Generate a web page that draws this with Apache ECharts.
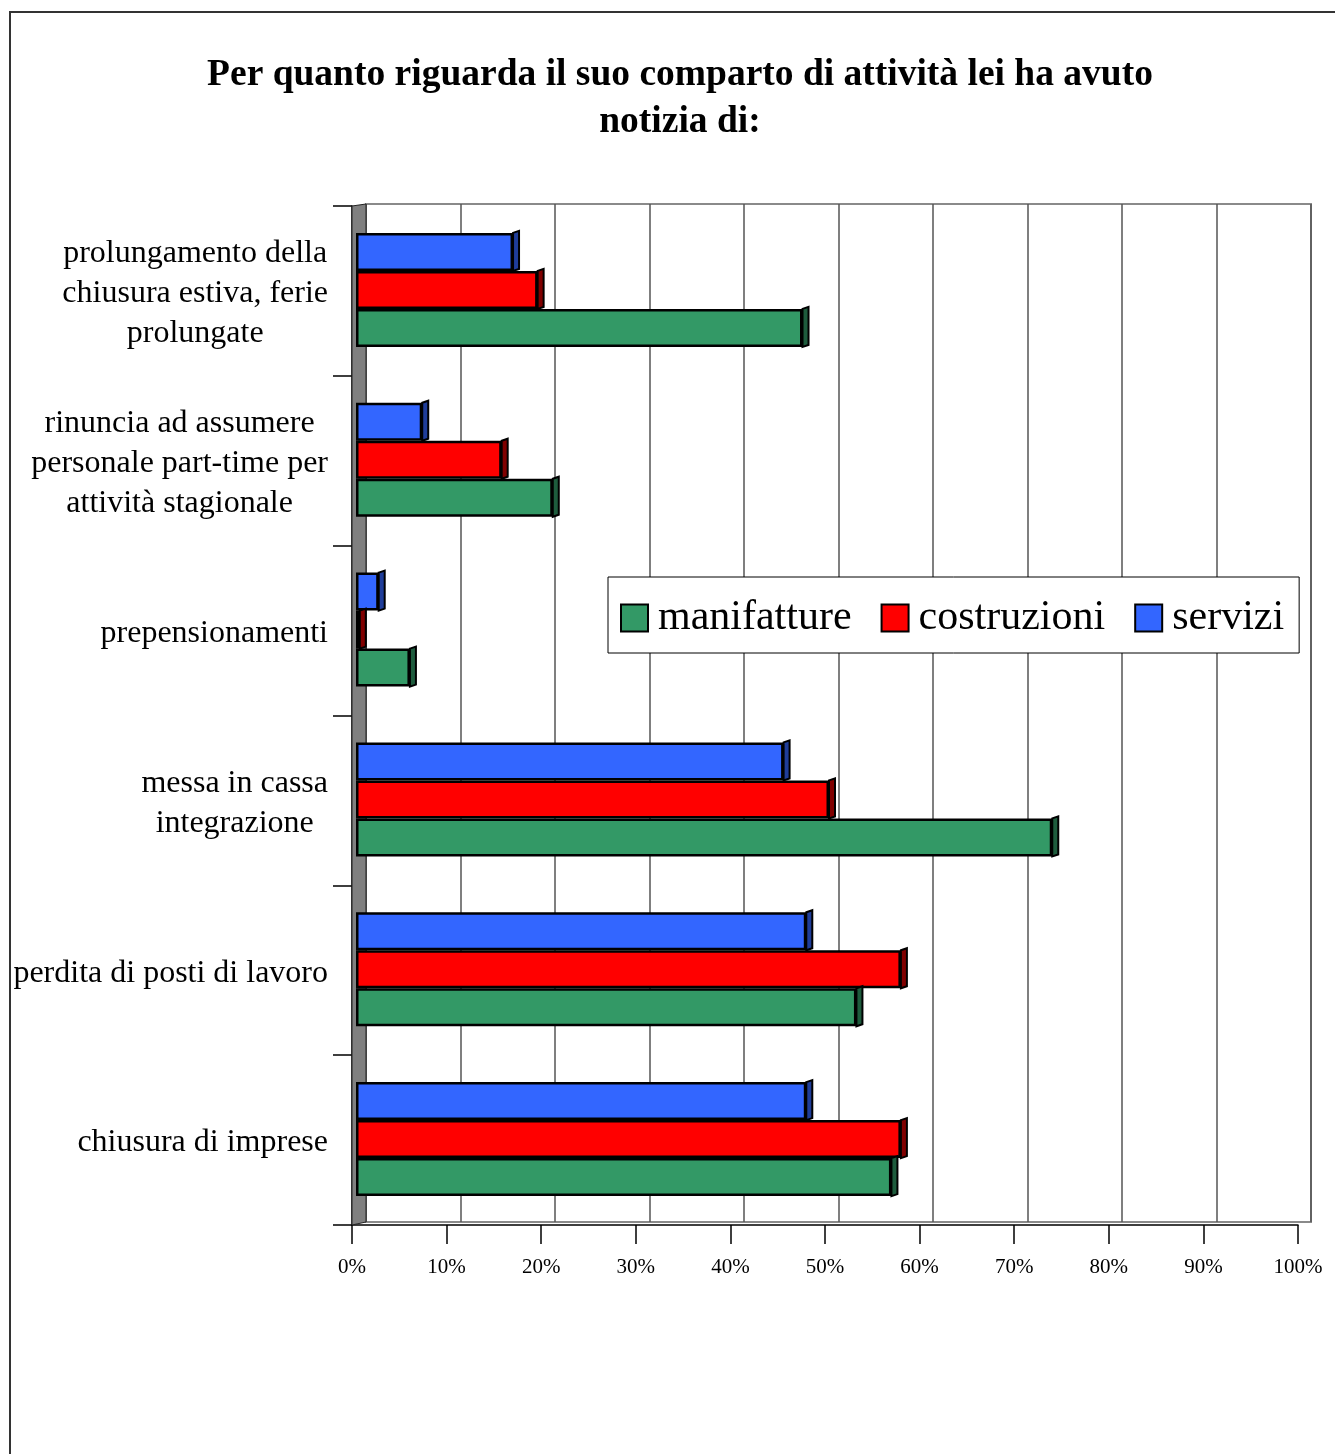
<!DOCTYPE html>
<html>
<head>
<meta charset="utf-8">
<script src="https://cdn.jsdelivr.net/npm/echarts@6/dist/echarts.min.js"></script>
<style>
  html, body { margin: 0; padding: 0; background: #fff; }
  #chart { width: 1335px; height: 1454px; }
</style>
</head>
<body>
<div id="chart"></div>
<script>
// Categories, top to bottom
const categories = [
  'prolungamento della\nchiusura estiva, ferie\nprolungate',
  'rinuncia ad assumere\npersonale part-time per\nattività stagionale',
  'prepensionamenti',
  'messa in cassa\nintegrazione',
  'perdita di posti di lavoro',
  'chiusura di imprese'
];

// Percentages per sector
const manifatture = [47.2, 20.8, 5.7, 73.6, 52.9, 56.6];
const costruzioni = [19.2, 15.4, 0.4, 50.0, 57.6, 57.6];
const servizi     = [16.6, 7.0, 2.4, 45.2, 47.6, 47.6];

const seriesNames = ['manifatture', 'costruzioni', 'servizi'];

// Styling
const FONT = 'Liberation Serif';
const faceColors = { manifatture: '#339966', costruzioni: '#FF0000', servizi: '#3366FF' };
const sideColors = { manifatture: '#1e5c3d', costruzioni: '#800000', servizi: '#1f3d99' };
const BAR_W = 38;
const DEPTH_X = 6, DEPTH_Y = -2;

// Bars listed top to bottom inside each group
const barOrder = [
  { name: 'servizi', data: servizi },
  { name: 'costruzioni', data: costruzioni },
  { name: 'manifatture', data: manifatture }
];

const W = 1335, H = 1454;
// front plane (axes), back wall (grid lines), bar plane
const front = { left: 352, right: W - 1298, top: 206, bottom: H - 1225 };
const back  = { left: 366, right: W - 1311, top: 204, bottom: H - 1222 };
const bars  = { left: 356, right: W - 1302, top: 205, bottom: H - 1224 };

const chart = echarts.init(document.getElementById('chart'), null, { renderer: 'canvas' });

const series = [];
barOrder.forEach((b) => {
  series.push({
    name: b.name,
    type: 'bar',
    xAxisIndex: 2, yAxisIndex: 2,
    barWidth: BAR_W,
    barGap: '0%',
    z: 3,
    itemStyle: { color: faceColors[b.name], borderColor: '#000', borderWidth: 2.5 },
    emphasis: { disabled: true },
    data: b.data
  });
});
// right-hand depth faces of the bars
barOrder.forEach((b, k) => {
  series.push({
    name: b.name + ' (lato)',
    type: 'custom',
    xAxisIndex: 2, yAxisIndex: 2,
    z: 4,
    silent: true,
    data: b.data.map((v, i) => [v, i]),
    encode: { x: 0, y: 1 },
    renderItem: function (params, api) {
      const p = api.coord([api.value(0), api.value(1)]);
      const y0 = p[1] - BAR_W * barOrder.length / 2 + k * BAR_W;
      const x0 = p[0];
      return {
        type: 'polygon',
        shape: { points: [
          [x0, y0], [x0 + DEPTH_X, y0 + DEPTH_Y],
          [x0 + DEPTH_X, y0 + BAR_W + DEPTH_Y], [x0, y0 + BAR_W]
        ] },
        style: { fill: sideColors[b.name], stroke: '#000', lineWidth: 2, lineJoin: 'miter' }
      };
    }
  });
});

const option = {
  backgroundColor: '#fff',
  animation: false,
  title: {
    text: 'Per quanto riguarda il suo comparto di attività lei ha avuto\nnotizia di:',
    left: 680,
    textAlign: 'center',
    top: 52,
    padding: 0,
    textStyle: { fontFamily: FONT, fontWeight: 'bold', fontSize: 37.5, lineHeight: 47, color: '#000' }
  },
  legend: {
    data: seriesNames,
    left: 608,
    top: 577,
    orient: 'horizontal',
    padding: [20, 15, 14, 12],
    itemGap: 29,
    itemWidth: 27,
    itemHeight: 27,
    icon: 'rect',
    backgroundColor: '#fff',
    borderColor: '#000',
    borderWidth: 1,
    selectedMode: false,
    itemStyle: { borderColor: '#000', borderWidth: 2 },
    textStyle: { fontFamily: FONT, fontSize: 42, color: '#000', padding: [0, 0, 0, 5] }
  },
  grid: [
    Object.assign({ show: false }, front),
    Object.assign({ show: true, borderColor: '#8a8a8a', borderWidth: 2, backgroundColor: 'transparent' }, back),
    Object.assign({ show: false }, bars)
  ],
  xAxis: [
    {
      gridIndex: 0, type: 'value', min: 0, max: 100, interval: 10,
      axisLine: { show: true, lineStyle: { color: '#000', width: 1.5 } },
      axisTick: { show: true, length: 19, lineStyle: { color: '#000', width: 1.5 } },
      splitLine: { show: false },
      axisLabel: { formatter: '{value}%', fontFamily: FONT, fontSize: 21, color: '#000', margin: 32 }
    },
    {
      gridIndex: 1, type: 'value', min: 0, max: 100, interval: 10,
      axisLine: { show: false }, axisTick: { show: false }, axisLabel: { show: false },
      splitLine: { show: true, lineStyle: { color: '#555', width: 1.5 } }
    },
    {
      gridIndex: 2, type: 'value', min: 0, max: 100, interval: 10, show: false
    }
  ],
  yAxis: [
    {
      gridIndex: 0, type: 'category', inverse: true, data: categories,
      axisLine: { show: true, lineStyle: { color: '#000', width: 1.5 } },
      axisTick: { show: true, length: 19, lineStyle: { color: '#000', width: 1.5 } },
      axisLabel: {
        margin: 24,
        align: 'right',
        padding: [6, 0, 0, 0],
        formatter: function (v) {
          return v.split('\n').map(s => '{c|' + s + '}').join('\n');
        },
        rich: { c: { align: 'center', fontFamily: FONT, fontSize: 32, lineHeight: 40, color: '#000' } }
      }
    },
    {
      gridIndex: 1, type: 'category', inverse: true, data: categories, show: false
    },
    {
      gridIndex: 2, type: 'category', inverse: true, data: categories, show: false
    }
  ],
  graphic: [
    // outer frame
    { type: 'rect', silent: true, z: 0,
      shape: { x: 10, y: 12, width: 1400, height: 1500 },
      style: { fill: 'none', stroke: '#333', lineWidth: 2 } },
    // left side wall
    { type: 'polygon', silent: true, z: 1,
      shape: { points: [[front.left, front.top], [back.left, back.top],
                        [back.left, H - back.bottom], [front.left, H - front.bottom]] },
      style: { fill: '#808080', stroke: '#222', lineWidth: 1 } }
  ],
  series: series
};

chart.setOption(option);
</script>
</body>
</html>
